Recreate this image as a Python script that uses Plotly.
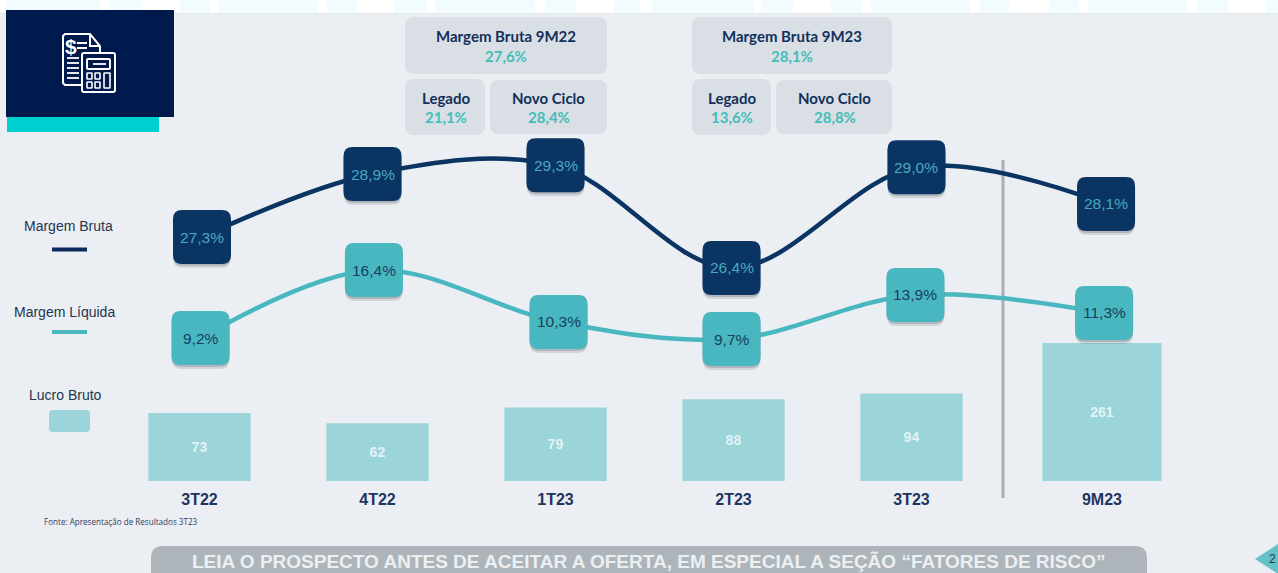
import plotly.graph_objects as go

W, H = 1278, 573

# ---- data ----
periodos = ["3T22", "4T22", "1T23", "2T23", "3T23", "9M23"]
lucro_bruto = [73, 62, 79, 88, 94, 261]
margem_bruta_rotulo = [27.3, 28.9, 29.3, 26.4, 29.0, 28.1]
margem_liquida_rotulo = [9.2, 16.4, 10.3, 9.7, 13.9, 11.3]
# The source slide is not drawn strictly to scale: heights of the points as read
# off the picture, in the same percentage units, next to the printed labels.
margem_bruta_altura = [27.3, 29.05, 29.29, 26.44, 29.24, 28.22]
margem_liquida_altura = [9.2, 16.4, 10.9, 9.09, 13.76, 11.85]
callout_titulos = ["Margem Bruta 9M22", "Legado", "Novo Ciclo", "Margem Bruta 9M23", "Legado", "Novo Ciclo"]
callout_valores = ["27,6%", "21,1%", "28,4%", "28,1%", "13,6%", "28,8%"]

# ---- layout / style ----
slot = [0, 1, 2, 3, 4, 5.07]          # horizontal slot of each period
slot_bruta = [0.014, 0.972, 2.0, 2.989, 4.028, 5.093]      # the slide's boxes sit slightly off the bars
slot_liquida = [0.006, 0.98, 2.017, 2.989, 4.022, 5.082]
SLOT_PX = 178.0
X0_PX = 199.5
BAR_W = [0.575] * 5 + [0.67]
BG = "#ebeef2"; NAVY = "#0a3461"; TEAL = "#49b7c0"; BAR = "#9bd4d9"; DARKBLUE = "#011a4e"
CARD = "#d9dfe5"; TXT = "#12305a"; CARDVAL = "#45bdb8"


def fx(p): return p / W
def fy(p): return 1 - p / H


def rr(x0, y0, x1, y1, r):
    return (f"M{x0+r},{y0} L{x1-r},{y0} Q{x1},{y0} {x1},{y0+r} L{x1},{y1-r} Q{x1},{y1} {x1-r},{y1} "
            f"L{x0+r},{y1} Q{x0},{y1} {x0},{y1-r} L{x0},{y0+r} Q{x0},{y0} {x0+r},{y0} Z")


def rr_px(x0, y0, x1, y1, r):
    """rounded rect given in picture pixels, converted to paper coords"""
    rx, ry = r / W, r / H
    a, b, c, d = fx(x0), fy(y0), fx(x1), fy(y1)
    return (f"M{a+rx},{b} L{c-rx},{b} Q{c},{b} {c},{b-ry} L{c},{d+ry} Q{c},{d} {c-rx},{d} "
            f"L{a+rx},{d} Q{a},{d} {a},{d+ry} L{a},{b-ry} Q{a},{b} {a+rx},{b} Z")


shapes = []
ann = []


def rect(x0, y0, x1, y1, color, **kw):
    shapes.append(dict(type="rect", xref="paper", yref="paper", x0=fx(x0), x1=fx(x1), y0=fy(y0), y1=fy(y1),
                       fillcolor=color, line_width=0, layer=kw.get("layer", "below")))


def card(x0, y0, x1, y1, color, r=9, layer="below"):
    shapes.append(dict(type="path", xref="paper", yref="paper", path=rr_px(x0, y0, x1, y1, r),
                       fillcolor=color, line_width=0, layer=layer))


def text(x, y, s, size, color, font="Liberation Sans", anchor="center"):
    ann.append(dict(xref="paper", yref="paper", x=fx(x), y=fy(y), text=s, showarrow=False, xanchor=anchor,
                    yanchor="middle", font=dict(family=font, size=size, color=color)))


# top strip
rect(0, 0, W, 13, "#ffffff")
for a, b in [(6, 100), (110, 141), (180, 210), (218, 318), (327, 357), (394, 427), (435, 535), (545, 576),
             (614, 640), (652, 754), (761, 793), (831, 862), (871, 970), (980, 1009), (1049, 1079),
             (1088, 1187), (1197, 1228), (1266, 1278)]:
    rect(a, 0, b, 13, "#f2fbfe")
rect(0, 13, W, 14, "#e2e8ea")

# icon block
rect(7, 117, 159, 132, "#00cfd0")
rect(6, 10, 174, 117, DARKBLUE)
WHITE = "#ffffff"


def stroke(path, w=2):
    shapes.append(dict(type="path", xref="paper", yref="paper", path=path, line=dict(color=WHITE, width=w),
                       fillcolor="rgba(0,0,0,0)", layer="above"))


def poly(pts, close=False):
    s = "M" + " L".join(f"{fx(a)},{fy(b)}" for a, b in pts)
    return s + (" Z" if close else "")


stroke(poly([(82, 85), (65, 85), (63, 83), (63, 36), (65, 34), (90, 34), (100, 46), (100, 53)]))
stroke(poly([(90, 34), (90, 46), (100, 46)]))
stroke(rr_px(82, 53, 115, 92, 2))
stroke(rr_px(87, 59, 110, 69, 1))
stroke(poly([(93, 64), (106, 64)]), 1.8)
for bx in (87, 95):
    for by in (73, 82):
        stroke(rr_px(bx, by, bx + 5, by + 6, 0.5), 1.6)
stroke(rr_px(104, 73, 110, 88, 0.5), 1.6)
for ly in (58, 63, 68, 73, 78):
    stroke(poly([(67, ly), (79, ly)]), 1.8)
stroke(poly([(77, 43), (87, 43)]), 2)
stroke(poly([(77, 48), (87, 48)]), 2)
text(70.5, 46, "<b>$</b>", 21, WHITE)

# callout cards
for (x0, y0, x1, y1) in [(405, 17, 607, 74), (405, 79, 485, 135), (490, 80, 607, 134),
                         (692, 17, 892, 74), (692, 79, 771, 135), (776, 80, 892, 134)]:
    card(x0, y0, x1, y1, CARD)
cx = [506, 446, 548.5, 792, 732, 834.5]
ty = [36, 97.5, 97.5, 36, 97.5, 97.5]
vy = [56, 117, 117, 56, 117, 117]
for x, y, yv, t, v in zip(cx, ty, vy, callout_titulos, callout_valores):
    text(x, y, f"<b>{t}</b>", 15, TXT, "Lato")
    text(x, yv, f"<b>{v}</b>", 15, CARDVAL, "Lato")

# legend block
text(68.5, 226, "Margem Bruta", 14, "#24364f")
rect(52, 247.5, 87, 251.5, "#0b2a5c", layer="above")
text(64, 312, "Margem Líquida", 14, "#24364f")
rect(52, 330, 87, 334, TEAL, layer="above")
text(65, 395, "Lucro Bruto", 14, "#24364f")
card(49, 410, 90, 432, BAR, r=4)

# separator
rect(1001.5, 160, 1004.5, 498, "#a9aeb3", layer="below")

# footers
text(42, 521, "Fonte: Apresentação de Resultados 3T23", 8.1, "#33405a", "Open Sans", "left")
shapes.append(dict(type="path", xref="paper", yref="paper", fillcolor="#adb5bb", line_width=0, layer="below",
                   path=rr_px(151, 546, 1147, 600, 12)))
text(649.5, 561.5, "<b>LEIA O PROSPECTO ANTES DE ACEITAR A OFERTA, EM ESPECIAL A SEÇÃO “FATORES DE RISCO”</b>", 19,
     "#eceff1", "Liberation Sans")
shapes.append(dict(type="path", xref="paper", yref="paper", fillcolor="#63c1c7", line_width=0, layer="below",
                   path=poly([(1255, 559), (1278, 544), (1278, 574)], True)))
text(1267, 559, "2", 12, "#1f3a50", "Liberation Sans", "left")

# ---- traces ----
fig = go.Figure()
bar_font = dict(family="Liberation Sans", size=14, color="#e2f3f5")
fig.add_bar(x=slot[:5], y=lucro_bruto[:5], width=BAR_W[:5], marker=dict(color=BAR, line_width=0), yaxis="y",
            text=[f"<b>{v}</b>" for v in lucro_bruto[:5]], textposition="inside", insidetextanchor="middle",
            textangle=0, textfont=bar_font, name="Lucro Bruto")
fig.add_bar(x=slot[5:], y=lucro_bruto[5:], width=BAR_W[5:], marker=dict(color=BAR, line_width=0), yaxis="y2",
            text=[f"<b>{v}</b>" for v in lucro_bruto[5:]], textposition="inside", insidetextanchor="middle",
            textangle=0, textfont=bar_font, name="Lucro Bruto 9M23")
fig.add_scatter(x=slot_liquida, y=margem_liquida_altura, yaxis="y4", mode="lines", name="Margem Líquida",
                line=dict(color=TEAL, width=4.5, shape="spline", smoothing=1.0))
fig.add_scatter(x=slot_bruta, y=margem_bruta_altura, yaxis="y3", mode="lines", name="Margem Bruta",
                line=dict(color=NAVY, width=4.5, shape="spline", smoothing=1.0))

# rounded value boxes anchored to the axes
for xs, ys, labels, ax, col, tcol in [
    (slot_liquida, margem_liquida_altura, margem_liquida_rotulo, "y4", TEAL, "#17405f"),
    (slot_bruta, margem_bruta_altura, margem_bruta_rotulo, "y3", NAVY, "#49a9c2"),
]:
    for x, y, lab in zip(xs, ys, labels):
        common = dict(type="path", xref="x", yref=ax, xsizemode="pixel", ysizemode="pixel", xanchor=x, yanchor=y,
                      line_width=0, layer="above")
        shapes.append(dict(common, path=rr(-29, -31, 29, 24, 10), fillcolor="rgba(60,70,80,0.14)"))
        shapes.append(dict(common, path=rr(-29, -29, 29, 24, 10), fillcolor="rgba(60,70,80,0.22)"))
        shapes.append(dict(common, path=rr(-29, -27, 29, 27, 9), fillcolor=col))
        ann.append(dict(x=x, y=y, xref="x", yref=ax, text=f"{lab:.1f}".replace(".", ",") + "%", showarrow=False,
                        font=dict(family="Liberation Sans", size=15.5, color=tcol)))

# ---- axes: full-bleed plot area so axes map directly on the picture ----
x_lo = -X0_PX / SLOT_PX
x_hi = (W - X0_PX) / SLOT_PX
BASE_PX = 481.0
px_per_unit = 0.93
px_per_unit_9m = 138 / 261
bruta_scale = 36.0
liq_scale = 9.44


def base_range(scale):
    return [-(H - BASE_PX) / scale, BASE_PX / scale]


def anchored_range(v, px, scale):
    return [v - (H - px) / scale, v + px / scale]


hidden = dict(visible=False, fixedrange=True, showgrid=False, zeroline=False)
fig.update_layout(
    width=W, height=H, autosize=False, margin=dict(l=0, r=0, t=0, b=0),
    paper_bgcolor=BG, plot_bgcolor="rgba(0,0,0,0)", showlegend=False, barmode="overlay",
    xaxis=dict(range=[x_lo, x_hi], tickmode="array", tickvals=slot, ticktext=[f"<b>{p}</b>" for p in periodos],
               anchor="free", position=(H - BASE_PX) / H, showgrid=False, zeroline=False, showline=False,
               ticks="outside", ticklen=4, tickcolor="rgba(0,0,0,0)", fixedrange=True,
               tickfont=dict(family="Liberation Sans", size=16, color="#1f3560")),
    yaxis=dict(range=base_range(px_per_unit), **hidden),
    yaxis2=dict(range=base_range(px_per_unit_9m), overlaying="y", **hidden),
    yaxis3=dict(range=anchored_range(27.3, 237, bruta_scale), overlaying="y", **hidden),
    yaxis4=dict(range=anchored_range(9.2, 338, liq_scale), overlaying="y", **hidden),
    shapes=shapes, annotations=ann,
)
fig.write_html("out.html", post_script="document.body.style.margin='0';document.body.style.overflow='hidden';",
               config=dict(displayModeBar=False))
